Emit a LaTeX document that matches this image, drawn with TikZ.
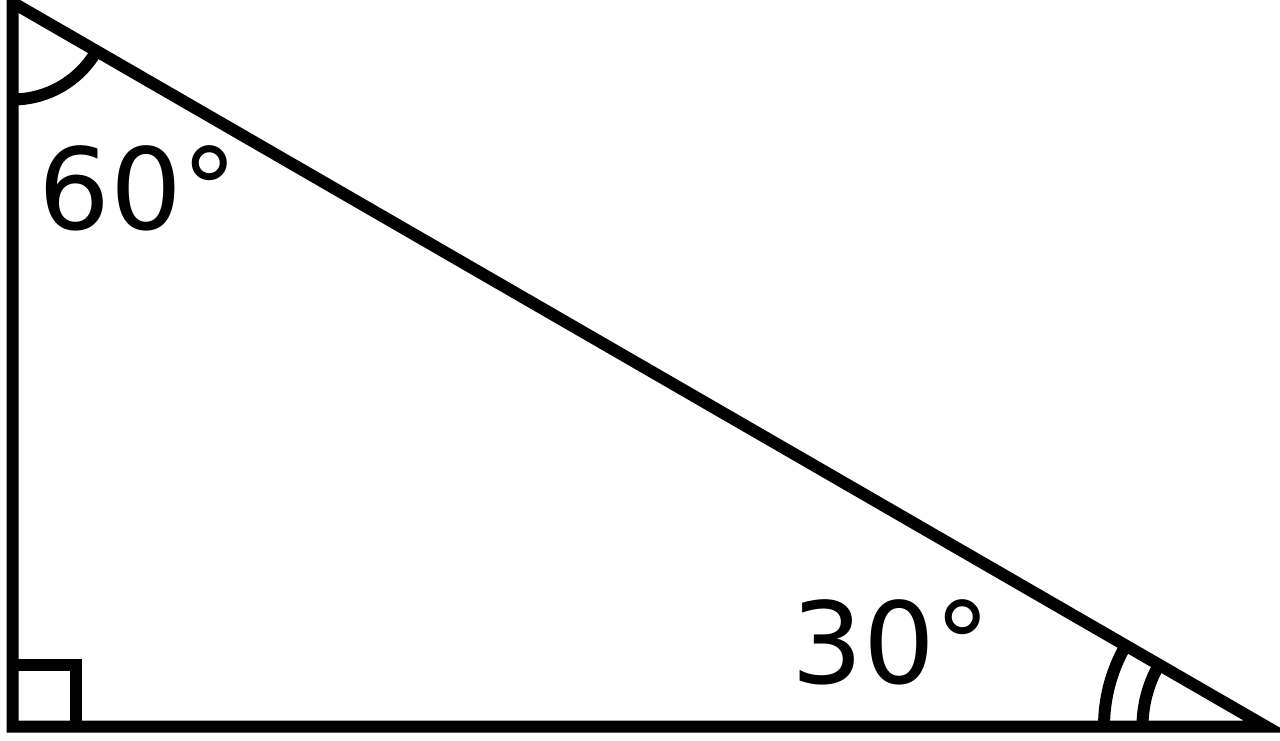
\documentclass[tikz,border=0pt]{standalone}
\usepackage{fontspec}
\setmainfont{DejaVu Sans}
\begin{document}
\begin{tikzpicture}[x=1pt,y=-1pt,
  edge/.style={line width=12pt,line join=miter,black},
  lbl/.style={anchor=base west,inner sep=0pt,font=\fontsize{113}{113}\selectfont}]
\useasboundingbox (0,0) rectangle (1280,740);
\clip (0,0) rectangle (1280,740);
\fill[white] (0,0) rectangle (1280,740);
\coordinate (A) at (12.5,2.5);
\coordinate (B) at (12.5,726.5);
\coordinate (C) at (1266,726.5);
\draw[edge] (A) -- (B) -- (C) -- cycle;
% right angle mark
\draw[edge] ([yshift=62pt]B) -- ++(63,0) -- ++(0,62);
% 60 degree arc
\draw[edge] ([yshift=-97pt]A) arc[start angle=-90,end angle=-30,radius=97pt];
% 30 degree arcs
\draw[edge] ([xshift=-162pt]C) arc[start angle=180,end angle=150,radius=162pt];
\draw[edge] ([xshift=-123.5pt]C) arc[start angle=180,end angle=150,radius=123.5pt];
\node[lbl] (t60) at (38,229) {60°};
\node[lbl] (t30) at (791,683) {30°};
\end{tikzpicture}
\end{document}
